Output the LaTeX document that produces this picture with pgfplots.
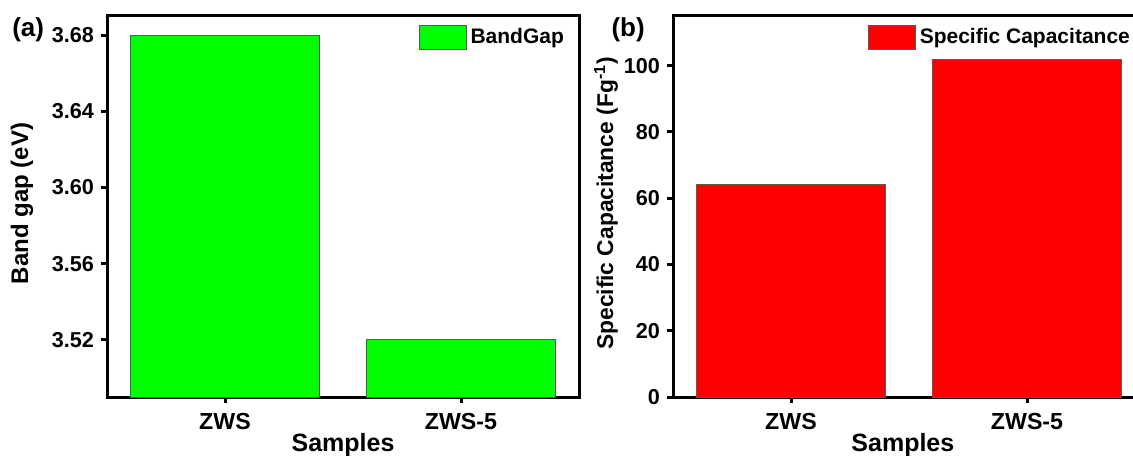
\documentclass[border=0pt]{standalone}
\usepackage{fontspec}
\setmainfont{Liberation Sans}
\usepackage{pgfplots}
\pgfplotsset{compat=1.18}
\definecolor{bargreen}{RGB}{0,255,0}
\definecolor{barred}{RGB}{255,0,0}
\definecolor{edge}{RGB}{90,90,90}
\pgfplotsset{
 myaxis/.style={
  scale only axis, width=236pt, height=190.5pt,
  anchor=south west,
  axis line style={line width=1.5pt},
  major tick style={line width=1.5pt, black},
  major tick length=3pt,
  tick align=outside,
  tick pos=left,
  xmin=-0.5, xmax=1.5,
  xtick={0,1}, xticklabels={ZWS,ZWS-5},
  x tick label style={font=\fontsize{11.6}{13}\selectfont\bfseries, yshift=-1.5pt},
  y tick label style={font=\fontsize{10.8}{12}\selectfont\bfseries},
  /pgf/number format/assume math mode=true,
  label style={font=\fontsize{12}{14}\selectfont\bfseries},
  xlabel={Samples},
  xlabel style={at={(axis description cs:0.5,-0.127)}, anchor=center, font=\fontsize{12.5}{14}\selectfont\bfseries},
  ybar, bar width=0.8,
  legend image code/.code={\draw[#1, line width=0.5pt] (0pt,-6pt) rectangle (23.5pt,6pt);},
  legend style={draw=none, fill=none, font=\fontsize{10.5}{12}\selectfont\bfseries, anchor=north east},
  clip mode=individual,
 }
}
\begin{document}
\begin{tikzpicture}
\begin{axis}[myaxis, at={(53.5pt,29pt)},
  ymin=3.49, ymax=3.69,
  ytick={3.52,3.56,3.60,3.64,3.68},
  yticklabel style={/pgf/number format/.cd, fixed, fixed zerofill, precision=2},
  ylabel={Band gap (eV)},
  ylabel style={at={(axis description cs:-0.180,0.508)}, anchor=center},
  legend style={at={(axis description cs:0.99,0.99)}},
]
\addplot[fill=bargreen, draw=edge, line width=0.5pt] coordinates {(0,3.68) (1,3.52)};
\addlegendentry{BandGap}
\node[font=\fontsize{13}{15}\selectfont\bfseries] at (axis description cs:-0.167,0.963) {(a)};
\end{axis}
\begin{axis}[myaxis, at={(336.5pt,29pt)},
  ymin=0, ymax=115,
  ytick={0,20,40,60,80,100},
  ylabel={Specific Capacitance (Fg\textsuperscript{-1})},
  ylabel style={at={(axis description cs:-0.142,0.508)}, anchor=center, font=\fontsize{11.4}{13}\selectfont\bfseries},
  xlabel style={at={(axis description cs:0.487,-0.127)}},
  legend style={at={(axis description cs:0.99,0.99)}},
]
\addplot[fill=barred, draw=edge, line width=0.5pt] coordinates {(0,64) (1,102)};
\addlegendentry{Specific Capacitance}
\node[font=\fontsize{13}{15}\selectfont\bfseries] at (axis description cs:-0.095,0.963) {(b)};
\end{axis}
\pgfresetboundingbox
\path[use as bounding box] (0,0) rectangle (566.5pt,227.5pt);
\end{tikzpicture}
\end{document}
